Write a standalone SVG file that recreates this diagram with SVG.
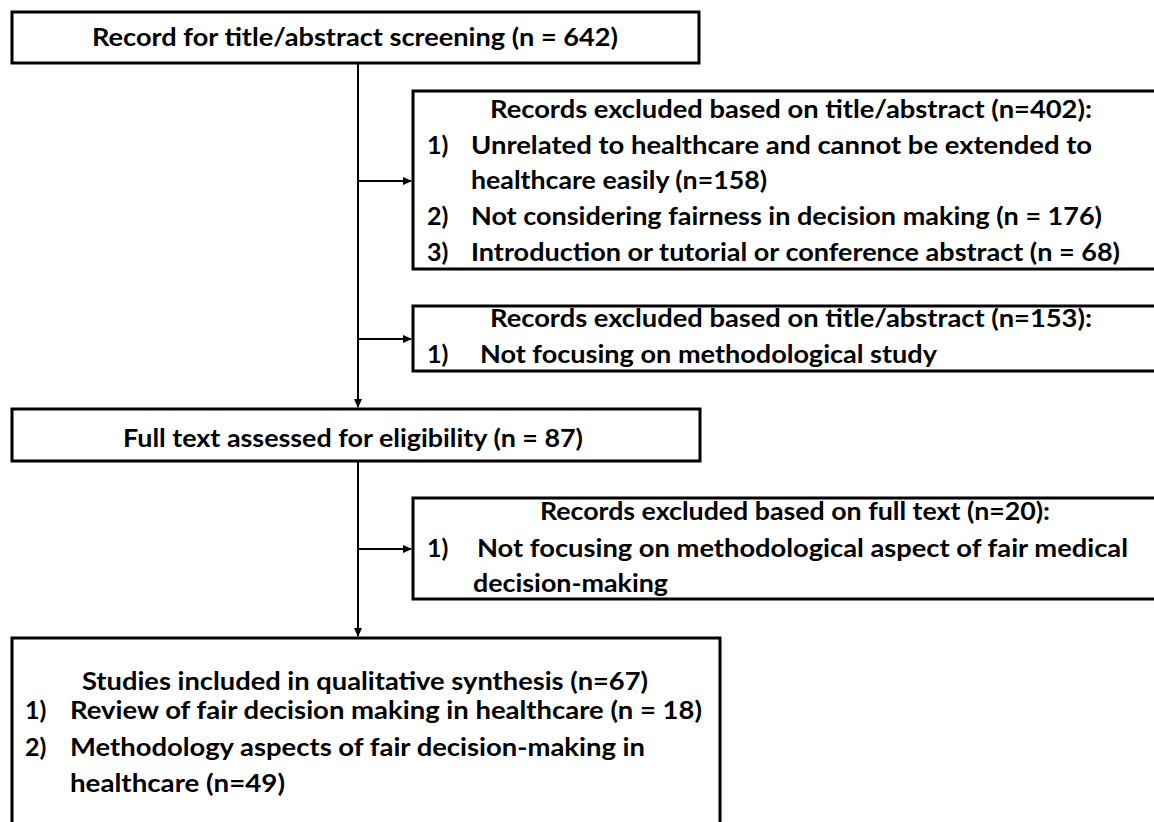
<svg xmlns="http://www.w3.org/2000/svg" width="1154" height="822" viewBox="0 0 1154 822">
<style>
.box{fill:#fff;stroke:#000;stroke-width:3}
.t{font-family:Lato,"Liberation Sans",sans-serif;font-weight:bold;font-size:25px;fill:#000}
.c{fill:none;stroke:#000;stroke-width:2}
</style>
<defs>
<marker id="ah" markerWidth="9" markerHeight="9" refX="8" refY="4.5" orient="auto" markerUnits="userSpaceOnUse">
<path d="M0,0.5 L9,4.5 L0,8.5 Z" fill="#000"/>
</marker>
</defs>
<rect width="1154" height="822" fill="#fff"/>
<g id="connectors">
<line class="c" x1="358" y1="63" x2="358" y2="407" marker-end="url(#ah)"/>
<line class="c" x1="358" y1="461" x2="358" y2="636" marker-end="url(#ah)"/>
<line class="c" x1="358" y1="181" x2="411" y2="181" marker-end="url(#ah)"/>
<line class="c" x1="358" y1="339" x2="411" y2="339" marker-end="url(#ah)"/>
<line class="c" x1="358" y1="549" x2="411" y2="549" marker-end="url(#ah)"/>
</g>
<g id="n-screen">
<rect class="box" x="12" y="12" width="687" height="51"/>
<text class="t" x="92" y="46" textLength="526" lengthAdjust="spacingAndGlyphs">Record for title/abstract screening (n = 642)</text>
</g>
<g id="n-excl1">
<rect class="box" x="413" y="91" width="760" height="178"/>
<text class="t" x="490" y="118" textLength="602" lengthAdjust="spacingAndGlyphs">Records excluded based on title/abstract (n=402):</text>
<text class="t" x="427" y="154">1)</text>
<text class="t" x="471" y="154" textLength="621" lengthAdjust="spacingAndGlyphs">Unrelated to healthcare and cannot be extended to</text>
<text class="t" x="471" y="189" textLength="296" lengthAdjust="spacingAndGlyphs">healthcare easily (n=158)</text>
<text class="t" x="427" y="225">2)</text>
<text class="t" x="471" y="225" textLength="631" lengthAdjust="spacingAndGlyphs">Not considering fairness in decision making (n = 176)</text>
<text class="t" x="427" y="261">3)</text>
<text class="t" x="471" y="261" textLength="649" lengthAdjust="spacingAndGlyphs">Introduction or tutorial or conference abstract (n = 68)</text>
</g>
<g id="n-excl2">
<rect class="box" x="413" y="306" width="760" height="65"/>
<text class="t" x="490" y="327" textLength="602" lengthAdjust="spacingAndGlyphs">Records excluded based on title/abstract (n=153):</text>
<text class="t" x="427" y="363">1)</text>
<text class="t" x="480" y="363" textLength="457" lengthAdjust="spacingAndGlyphs">Not focusing on methodological study</text>
</g>
<g id="n-full">
<rect class="box" x="12" y="409" width="688" height="52"/>
<text class="t" x="123" y="447" textLength="460" lengthAdjust="spacingAndGlyphs">Full text assessed for eligibility (n = 87)</text>
</g>
<g id="n-excl3">
<rect class="box" x="413" y="498" width="760" height="101"/>
<text class="t" x="540" y="520" textLength="510" lengthAdjust="spacingAndGlyphs">Records excluded based on full text (n=20):</text>
<text class="t" x="427" y="557">1)</text>
<text class="t" x="477" y="557" textLength="651" lengthAdjust="spacingAndGlyphs">Not focusing on methodological aspect of fair medical</text>
<text class="t" x="473" y="592" textLength="195" lengthAdjust="spacingAndGlyphs">decision-making</text>
</g>
<g id="n-included">
<rect class="box" x="12" y="638" width="708" height="200"/>
<text class="t" x="82" y="690" textLength="566" lengthAdjust="spacingAndGlyphs">Studies included in qualitative synthesis (n=67)</text>
<text class="t" x="25" y="719">1)</text>
<text class="t" x="70" y="719" textLength="632" lengthAdjust="spacingAndGlyphs">Review of fair decision making in healthcare (n = 18)</text>
<text class="t" x="25" y="756">2)</text>
<text class="t" x="70" y="756" textLength="575" lengthAdjust="spacingAndGlyphs">Methodology aspects of fair decision-making in</text>
<text class="t" x="70" y="792" textLength="215" lengthAdjust="spacingAndGlyphs">healthcare (n=49)</text>
</g>
</svg>
